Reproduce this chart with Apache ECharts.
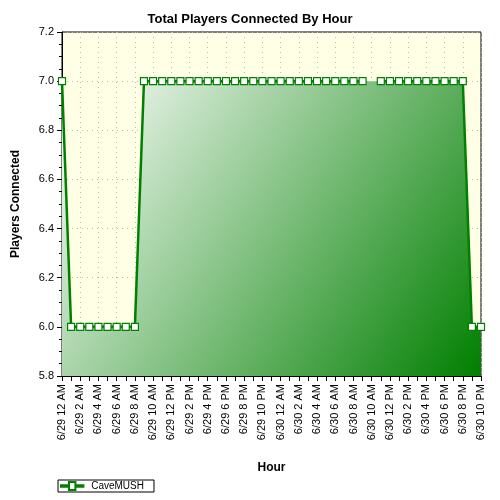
<!DOCTYPE html><html><head><meta charset="utf-8"><script src="https://cdn.jsdelivr.net/npm/echarts@6/dist/echarts.min.js"></script></head><body style="margin:0"><div id="c" style="width:500px;height:500px"></div><script>
const hours=['12 AM','1 AM','2 AM','3 AM','4 AM','5 AM','6 AM','7 AM','8 AM','9 AM','10 AM','11 AM','12 PM','1 PM','2 PM','3 PM','4 PM','5 PM','6 PM','7 PM','8 PM','9 PM','10 PM','11 PM'];
const categories=[...hours.map(h=>'6/29 '+h),...hours.slice(0,23).map(h=>'6/30 '+h)];
const players=[7,6,6,6,6,6,6,6,6,7,7,7,7,7,7,7,7,7,7,7,7,7,7,7,7,7,7,7,7,7,7,7,7,7,null,7,7,7,7,7,7,7,7,7,7,6,6];
const chart=echarts.init(document.getElementById('c'));
chart.setOption({
 backgroundColor:'#fff',animation:false,
 title:{text:'Total Players Connected By Hour',left:'center',top:8,textStyle:{fontSize:13,fontWeight:'bold',color:'#000',fontFamily:'Liberation Sans'}},
 grid:{left:62,right:19,top:32,bottom:124,backgroundColor:'#FFFFE6',show:true,borderColor:'#000',borderWidth:1},
 legend:{left:58,bottom:8,itemWidth:28,itemHeight:8,textStyle:{fontSize:10,fontFamily:'Liberation Sans',color:'#000'},borderColor:'#000',borderWidth:1,padding:[1,10,1,2],data:[{name:'CaveMUSH',icon:'path://M0,4h10v-4h8v4h10v2h-10v4h-8v-4h-10z'}]},
 xAxis:{type:'category',data:categories,boundaryGap:false,name:'Hour',nameLocation:'middle',nameGap:86,nameTextStyle:{fontWeight:'bold',fontSize:12,fontFamily:'Liberation Sans'},
  axisLine:{lineStyle:{color:'#000'}},axisTick:{interval:0,lineStyle:{color:'#000'}},
  axisLabel:{rotate:90,interval:1,fontSize:11,color:'#000',fontFamily:'Liberation Sans'},
  splitLine:{show:true,interval:1,lineStyle:{type:[1,4],color:'#bbb'}}},
 yAxis:{type:'value',min:5.8,max:7.2,interval:0.2,name:'Players Connected',nameLocation:'middle',nameGap:40,nameTextStyle:{fontWeight:'bold',fontSize:12,fontFamily:'Liberation Sans'},
  axisLine:{show:true,lineStyle:{color:'#000'}},axisTick:{show:true,lineStyle:{color:'#000'}},minorTick:{show:true,splitNumber:4,lineStyle:{color:'#000'}},
  axisLabel:{fontSize:11,color:'#000',fontFamily:'Liberation Sans',formatter:v=>v.toFixed(1)},
  splitLine:{lineStyle:{type:[1,4],color:'#bbb'}}},
 series:[
  {name:'area',type:'line',data:players,connectNulls:true,symbol:'none',lineStyle:{width:0},silent:true,
   areaStyle:{opacity:1,color:new echarts.graphic.LinearGradient(0,0,1,1,[{offset:0,color:'#ffffff'},{offset:1,color:'#007f00'}])}},
  {name:'CaveMUSH',type:'line',data:players,symbol:'rect',symbolSize:7,showAllSymbol:true,
  itemStyle:{color:'#fff',borderColor:'#008000',borderWidth:1.2},lineStyle:{color:'#008000',width:2.5}}]
});
</script></body></html>
